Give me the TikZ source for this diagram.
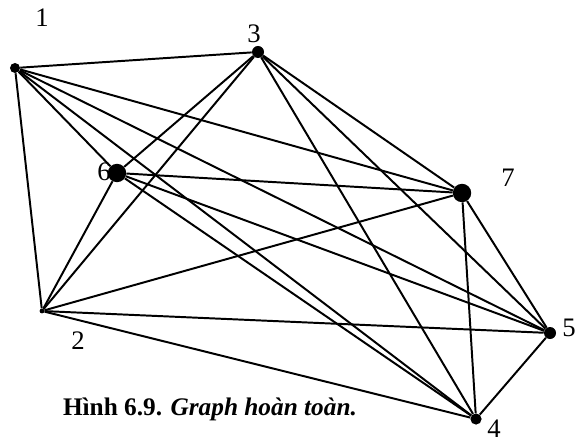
\documentclass[tikz,border=0pt]{standalone}
\usepackage{fontspec}
\setmainfont{Liberation Serif}
\usetikzlibrary{positioning}

\begin{document}
\begin{tikzpicture}[x=0.025cm, y=-0.025cm,
    vtx/.style={circle, fill=black, inner sep=0pt},
    vlbl/.style={font=\fontsize{19}{19}\selectfont, inner sep=0pt},
    edge/.style={line width=1.4pt, black}
  ]
    \useasboundingbox (0,0) rectangle (576,445);

    % --- Labels ---
    \node[vlbl] (l1) at (42,18)  {1};
    \node[vlbl] (l3) at (254,34) {3};
    \node[vlbl] (l6) at (104,172) {6};
    \node[vlbl] (l7) at (508,178) {7};
    \node[vlbl] (l2) at (78,341) {2};
    \node[vlbl] (l5) at (569,328) {5};
    \node[vlbl] (l4) at (494,429) {4};

    % --- Vertices ---
    \node[vtx, minimum size=0.25cm] (v1) at (15,68) {};
    \node[vtx, minimum size=0.3cm]  (v3) at (258,52) {};
    \node[vtx, minimum size=0.46cm] (v6) at (117,173) {};
    \node[vtx, minimum size=0.46cm] (v7) at (462,193) {};
    \node[vtx, minimum size=0.12cm] (v2) at (42,311) {};
    \node[vtx, minimum size=0.3cm]  (v5) at (550,333) {};
    \node[vtx, minimum size=0.28cm] (v4) at (476,419) {};

    % --- Edges ---
    \draw[edge] (v1) -- (v3);
    \draw[edge] (v1) -- (v6);
    \draw[edge] (v1) -- (v7);
    \draw[edge] (v1) -- (v2);
    \draw[edge] (v1) -- (v5);
    \draw[edge] (v1) -- (v4);

    \draw[edge] (v3) -- (v6);
    \draw[edge] (v3) -- (v7);
    \draw[edge] (v3) -- (v2);
    \draw[edge] (v3) -- (v5);
    \draw[edge] (v3) -- (v4);

    \draw[edge] (v6) -- (v7);
    \draw[edge] (v6) -- (v2);
    \draw[edge] (v6) -- (v5);
    \draw[edge] (v6) -- (v4);

    \draw[edge] (v7) -- (v2);
    \draw[edge] (v7) -- (v5);
    \draw[edge] (v7) -- (v4);

    \draw[edge] (v2) -- (v5);
    \draw[edge] (v2) -- (v4);

    \draw[edge] (v5) -- (v4);

    % --- Caption ---
    \node[font=\fontsize{18}{18}\selectfont, inner sep=0pt] (cap) at (210,409)
      {\textbf{Hình 6.9.} \textbf{\itshape Graph hoàn toàn.}};
  \end{tikzpicture}
\end{document}
